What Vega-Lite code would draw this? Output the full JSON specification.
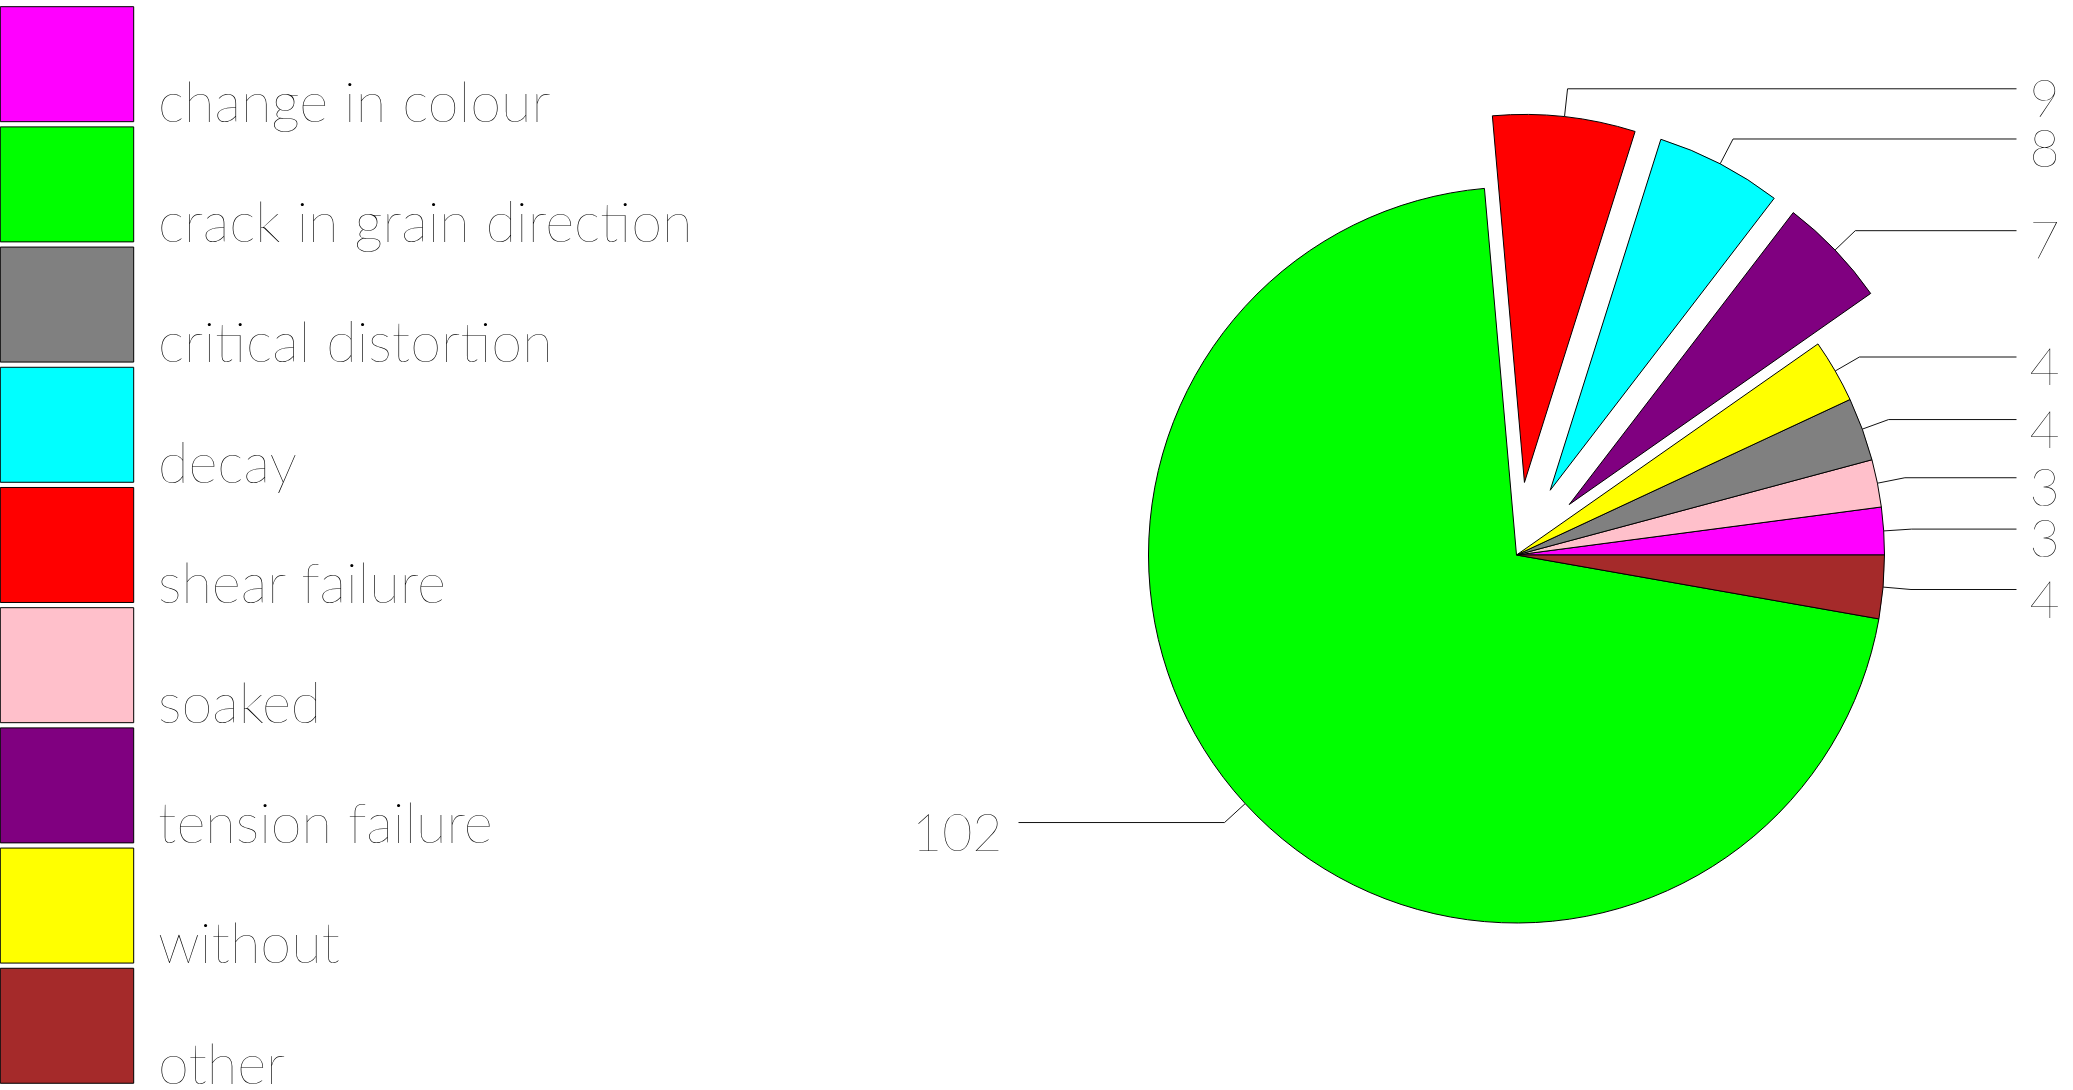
{
  "$schema": "https://vega.github.io/schema/vega-lite/v6.json",
  "width": 2073,
  "height": 1090,
  "autosize": {"type": "none"},
  "padding": 0,
  "config": {"view": {"stroke": null}, "font": "Lato"},
  "data": {
    "values": [
      {"defect": "change in colour", "count": 3},
      {"defect": "soaked", "count": 3},
      {"defect": "critical distortion", "count": 4},
      {"defect": "without", "count": 4},
      {"defect": "tension failure", "count": 7},
      {"defect": "decay", "count": 8},
      {"defect": "shear failure", "count": 9},
      {"defect": "crack in grain direction", "count": 102},
      {"defect": "other", "count": 4}
    ]
  },
  "transform": [
    {"window": [{"op": "sum", "field": "count", "as": "e"}]},
    {"joinaggregate": [{"op": "sum", "field": "count", "as": "T"}]},
    {"calculate": "datum.e - datum.count", "as": "s"},
    {"calculate": "PI * (datum.s + datum.e) / datum.T", "as": "phi"},
    {"calculate": "indexof(['shear failure','decay','tension failure'], datum.defect) >= 0 ? 73 : 0", "as": "ex"},
    {"calculate": "datum.ex * cos(datum.phi)", "as": "ox"},
    {"calculate": "datum.ex * sin(datum.phi)", "as": "oy"},
    {"calculate": "(368 + datum.ex) * cos(datum.phi)", "as": "x1"},
    {"calculate": "(368 + datum.ex) * sin(datum.phi)", "as": "y1"},
    {"calculate": "(396 + datum.ex) * cos(datum.phi)", "as": "bx"},
    {"calculate": "(396 + datum.ex) * sin(datum.phi)", "as": "by"},
    {"calculate": "cos(datum.phi) > 0 ? 500 : -498", "as": "lx"},
    {"calculate": "cos(datum.phi) > 0 ? 513 : -514", "as": "tx"}
  ],
  "layer": [
    {
      "mark": {"type": "arc", "outerRadius": 368, "stroke": "black", "strokeWidth": 1},
      "encoding": {
        "theta": {"field": "e", "type": "quantitative", "scale": {"range": [1.5707963, -4.712389]}},
        "theta2": {"field": "s"},
        "x": {"field": "ox", "type": "quantitative", "scale": {"domain": [-1516.5, 556.5], "nice": false, "zero": false}, "axis": null},
        "y": {"field": "oy", "type": "quantitative", "scale": {"domain": [-535, 555], "nice": false, "zero": false}, "axis": null},
        "color": {
          "field": "defect",
          "type": "nominal",
          "scale": {
            "domain": ["change in colour", "crack in grain direction", "critical distortion", "decay", "shear failure", "soaked", "tension failure", "without", "other"],
            "range": ["#FF00FF", "#00FF00", "#808080", "#00FFFF", "#FF0000", "#FFC0CB", "#800080", "#FFFF00", "#A52A2A"]
          },
          "legend": {
            "orient": "none",
            "legendX": 9,
            "legendY": 47,
            "title": null,
            "symbolType": "M-1.16,-1.71H1.16V0.29H-1.16Z",
            "symbolSize": 13225,
            "symbolStrokeColor": "black",
            "symbolStrokeWidth": 1,
            "symbolOpacity": 1,
            "labelFontSize": 56,
            "labelFont": "Lato",
            "labelFontWeight": 200,
            "labelColor": "#000000",
            "labelLimit": 1200,
            "labelOffset": 33,
            "rowPadding": -8.8
          }
        }
      }
    },
    {
      "mark": {"type": "rule", "stroke": "#111111", "strokeWidth": 1},
      "encoding": {
        "x": {"field": "x1", "type": "quantitative", "scale": {"domain": [-1516.5, 556.5], "nice": false, "zero": false}, "axis": null},
        "y": {"field": "y1", "type": "quantitative", "scale": {"domain": [-535, 555], "nice": false, "zero": false}, "axis": null},
        "x2": {"field": "bx"},
        "y2": {"field": "by"}
      }
    },
    {
      "mark": {"type": "rule", "stroke": "#111111", "strokeWidth": 1},
      "encoding": {
        "x": {"field": "bx", "type": "quantitative", "scale": {"domain": [-1516.5, 556.5], "nice": false, "zero": false}, "axis": null},
        "y": {"field": "by", "type": "quantitative", "scale": {"domain": [-535, 555], "nice": false, "zero": false}, "axis": null},
        "x2": {"field": "lx"},
        "y2": {"field": "by"}
      }
    },
    {
      "transform": [{"filter": "cos(datum.phi) > 0"}],
      "mark": {"type": "text", "align": "left", "baseline": "middle", "dy": 12, "fontSize": 52, "font": "Lato", "fontWeight": 200, "color": "#000000"},
      "encoding": {
        "x": {"field": "tx", "type": "quantitative", "scale": {"domain": [-1516.5, 556.5], "nice": false, "zero": false}, "axis": null},
        "y": {"field": "by", "type": "quantitative", "scale": {"domain": [-535, 555], "nice": false, "zero": false}, "axis": null},
        "text": {"field": "count", "type": "quantitative"}
      }
    },
    {
      "transform": [{"filter": "cos(datum.phi) <= 0"}],
      "mark": {"type": "text", "align": "right", "baseline": "middle", "dy": 12, "fontSize": 52, "font": "Lato", "fontWeight": 200, "color": "#000000"},
      "encoding": {
        "x": {"field": "tx", "type": "quantitative", "scale": {"domain": [-1516.5, 556.5], "nice": false, "zero": false}, "axis": null},
        "y": {"field": "by", "type": "quantitative", "scale": {"domain": [-535, 555], "nice": false, "zero": false}, "axis": null},
        "text": {"field": "count", "type": "quantitative"}
      }
    }
  ]
}
